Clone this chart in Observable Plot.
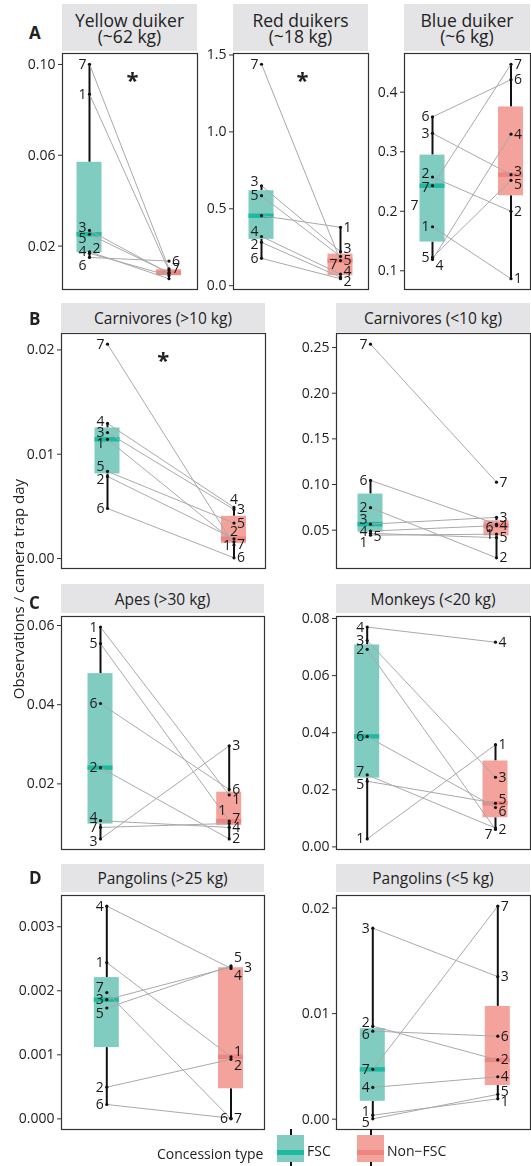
<!DOCTYPE html>
<html>
<head>
<meta charset="utf-8">
<script src="https://cdn.jsdelivr.net/npm/d3@7"></script>
<script src="https://cdn.jsdelivr.net/npm/@observablehq/plot@0.6"></script>
<style>
  body { margin: 0; background: #fff; }
  #fig { position: relative; width: 531px; height: 1166px; overflow: hidden;
         font-family: "Open Sans", sans-serif; color: #222; }
  .strip { position: absolute; background: #e4e4e6; display: flex; align-items: center;
           justify-content: center; text-align: center; color: #222; }
  .tag { position: absolute; font-weight: bold; font-size: 17px; line-height: 17px; }
  .panel { position: absolute; will-change: transform; }
</style>
</head>
<body>
<div id="fig"></div>
<script>
// Study sites, paired across concession types
const sites = [1, 2, 3, 4, 5, 6, 7];

// Observations per camera trap day, sites 1..7
const yellowFSC  = [0.0869, 0.0168, 0.0269, 0.0175, 0.0252, 0.0150, 0.1001];
const yellowNon  = [0.0092, 0.0070, 0.0080, 0.0056, 0.0082, 0.0134, 0.0100];
const redFSC     = [0.455, 0.282, 0.650, 0.320, 0.585, 0.178, 1.440];
const redNon     = [0.380, 0.055, 0.221, 0.075, 0.190, 0.045, 0.163];
const blueFSC    = [0.174, 0.2576, 0.331, 0.119, 0.1225, 0.3585, 0.243];
const blueNon    = [0.0866, 0.200, 0.2615, 0.3295, 0.252, 0.421, 0.447];
const carnLFSC   = [0.01143, 0.00787, 0.01208, 0.01295, 0.00835, 0.0048, 0.02055];
const carnLNon   = [0.0016, 0.0019, 0.0047, 0.0049, 0.0034, 0.00007, 0.0013];
const carnSFSC   = [0.0445, 0.0746, 0.0566, 0.049, 0.0465, 0.1045, 0.2537];
const carnSNon   = [0.0456, 0.0197, 0.064, 0.055, 0.0418, 0.0566, 0.1026];
const apesFSC    = [0.0596, 0.0241, 0.0061, 0.0107, 0.0554, 0.0403, 0.009];
const apesNon    = [0.0172, 0.0061, 0.0296, 0.009, 0.0106, 0.0186, 0.010];
const monkeysFSC = [0.0028, 0.0692, 0.0723, 0.077, 0.023, 0.0387, 0.0252];
const monkeysNon = [0.0358, 0.0061, 0.0244, 0.0717, 0.0153, 0.0138, 0.0066];
const pangLFSC   = [0.002441, 0.000495, 0.001862, 0.003322, 0.001731, 0.000224, 0.001972];
const pangLNon   = [0.00097, 0.00093, 0.00237, 0.00235, 0.00239, 0.00001, 0.0];
const pangSFSC   = [0.00038, 0.00881, 0.01809, 0.00301, 0.00003, 0.00834, 0.00472];
const pangSNon   = [0.00193, 0.00561, 0.0135, 0.00402, 0.00235, 0.00786, 0.02018];

// Tick values for each panel's y axis
const yellowTicks  = [0.02, 0.06, 0.10];
const redTicks     = [0.0, 0.5, 1.0, 1.5];
const blueTicks    = [0.1, 0.2, 0.3, 0.4];
const carnLTicks   = [0.00, 0.01, 0.02];
const carnSTicks   = [0.05, 0.10, 0.15, 0.20, 0.25];
const apesTicks    = [0.02, 0.04, 0.06];
const monkeysTicks = [0.00, 0.02, 0.04, 0.06, 0.08];
const pangLTicks   = [0.000, 0.001, 0.002, 0.003];
const pangSTicks   = [0.00, 0.01, 0.02];

const groups = ["FSC", "Non\u2212FSC"];
const colors = {
  fill:   ["#80ccc1", "#f4a29c"],
  median: ["#1fb9a1", "#ef8580"]
};

// Panel layout: frame [left, top, right, bottom] in page pixels, box centres in page x
const panels = [
  {title: ["Yellow duiker", "(~62 kg)"], fsc: yellowFSC, non: yellowNon, ticks: yellowTicks, fmt: ".2f",
   frame: [62, 53, 197, 289], centers: [89, 168.5], strip: [4, 51], star: 1.54, big: true},
  {title: ["Red duikers", "(~18 kg)"], fsc: redFSC, non: redNon, ticks: redTicks, fmt: ".1f",
   frame: [233, 53, 368, 289], centers: [261, 340], strip: [4, 51], star: 1.52, big: true},
  {title: ["Blue duiker", "(~6 kg)"], fsc: blueFSC, non: blueNon, ticks: blueTicks, fmt: ".1f",
   frame: [404, 53, 530, 289], centers: [432, 510.5], strip: [4, 51], big: true},
  {title: ["Carnivores (>10 kg)"], fsc: carnLFSC, non: carnLNon, ticks: carnLTicks, fmt: ".2f",
   frame: [61, 333, 265, 568], centers: [107, 233.5], strip: [303, 332], star: 1.44},
  {title: ["Carnivores (<10 kg)"], fsc: carnSFSC, non: carnSNon, ticks: carnSTicks, fmt: ".2f",
   frame: [336, 333, 530, 568], centers: [370, 496], strip: [303, 332]},
  {title: ["Apes (>30 kg)"], fsc: apesFSC, non: apesNon, ticks: apesTicks, fmt: ".2f",
   frame: [61, 616, 264, 849], centers: [100, 228.7], strip: [584, 613]},
  {title: ["Monkeys (<20 kg)"], fsc: monkeysFSC, non: monkeysNon, ticks: monkeysTicks, fmt: ".2f",
   frame: [336, 616, 530, 849], centers: [366.7, 495], strip: [584, 613]},
  {title: ["Pangolins (>25 kg)"], fsc: pangLFSC, non: pangLNon, ticks: pangLTicks, fmt: ".3f",
   frame: [61, 895, 264, 1129], centers: [106.3, 230.5], strip: [864, 892]},
  {title: ["Pangolins (<5 kg)"], fsc: pangSFSC, non: pangSNon, ticks: pangSTicks, fmt: ".2f",
   frame: [336, 895, 530, 1129], centers: [372.3, 497.3], strip: [864, 892]}
];

// Site-label placement: a number is a vertical nudge (px); {o} puts the label on the
// other side of its dot, {t} centres it above the dot, {dx} adds horizontal room; null hides it.
// "extra" repeats a site's label once more at an offset (dx, dy) from its dot.
const labelTweaks = [
  {fsc: {3: -3, 5: 4.5, 2: {o: 1, dy: -5}, 6: 8}, non: {1: null, 2: null, 3: null, 4: null, 5: null}},
  {fsc: {1: null, 3: -4, 4: -5, 2: 2}, non: {3: -3, 5: 4, 7: {o: 1, dy: 4}, 4: -3, 2: 4, 6: null}},
  {fsc: {2: -3, 7: 2, 4: {o: 1, dy: 6}}, non: {3: -3, 5: 4}, extra: [[7, 1, -14, 20]]},
  {fsc: {4: -2, 1: 4, 5: -5, 2: 3}, non: {4: {t: 1, dy: -8}, 2: {t: 1, dy: -7}, 1: {o: 1, dy: 4}}},
  {fsc: {3: -5, 5: {o: 1, dy: 3}, 1: 7}, non: {6: {o: 1, dy: 3}, 1: {o: 1, dy: 0}}},
  {fsc: {4: -3, 3: 3}, non: {1: 5, 7: -5, 5: null}, extra: [[1, 2, -3, 16]]},
  {fsc: {7: -3, 5: 3}, non: {5: -4, 6: 4, 7: {o: 1, dy: 6}}},
  {fsc: {7: -5, 5: 5}, non: {5: -8, 3: {dx: 10, dy: 0}, 4: 7, 1: -5, 2: 6, 6: {o: 1, dy: 0}}},
  {fsc: {2: -4, 6: 3, 1: -4, 5: 4}, non: {5: -3, 1: 3}}
];

const tags = [["A", 33], ["B", 319], ["C", 603], ["D", 878]];

const fig = document.getElementById("fig");
const FONT = '"Open Sans", sans-serif';
const ML = 50;         // room for y tick labels
const BOX_PX = 25;     // box width in pixels

function boxStats(values) {
  const v = values.slice().sort(d3.ascending);
  const q1 = d3.quantile(v, 0.25), med = d3.quantile(v, 0.5), q3 = d3.quantile(v, 0.75);
  const iqr = q3 - q1;
  const lo = d3.min(v.filter(d => d >= q1 - 1.5 * iqr));
  const hi = d3.max(v.filter(d => d <= q3 + 1.5 * iqr));
  return {q1, med, q3, lo, hi};
}

function siteLabel(d, dx, dy, anchor) {
  return Plot.text([d], {
    x: "g", y: "v", text: r => String(r.site), dx, dy, textAnchor: anchor,
    fontSize: 14, fill: "#1a1a1a"
  });
}

panels.forEach((p, pi) => {
  const [fl, ft, fr, fb] = p.frame;
  const W = fr - fl, H = fb - ft;
  const [c1, c2] = p.centers;
  const hw = (BOX_PX / 2) / (c2 - c1);

  // strip title
  const strip = document.createElement("div");
  strip.className = "strip";
  Object.assign(strip.style, {left: fl + "px", top: p.strip[0] + "px", width: W + "px",
                              height: (p.strip[1] - p.strip[0]) + "px",
                              fontSize: p.big ? "17.5px" : "15.5px",
                              lineHeight: p.big ? "16px" : "18px"});
  strip.innerHTML = p.title.join("<br>");
  fig.appendChild(strip);

  const all = p.fsc.concat(p.non);
  const [mn, mx] = d3.extent(all);
  const pad = (mx - mn) * 0.05;

  const pairs = sites.map((s, i) => ({site: s, a: p.fsc[i], b: p.non[i]}));
  const stats = [p.fsc, p.non].map((vals, g) => ({g: g + 1, ...boxStats(vals)}));
  const pts = [];
  pairs.forEach(d => { pts.push({site: d.site, g: 1, v: d.a}); pts.push({site: d.site, g: 2, v: d.b}); });

  const labelMarks = [];
  const tw = labelTweaks[pi];
  pts.forEach(d => {
    const t = (d.g === 1 ? tw.fsc : tw.non)[d.site];
    if (t === null) return;
    let dy = 0, dx = 0, side = d.g === 1 ? -1 : 1, center = false;
    if (typeof t === "number") dy = t;
    else if (t) {
      dy = t.dy || 0; dx = t.dx || 0;
      if (t.o) side = -side;
      if (t.t) center = true;
    }
    labelMarks.push(siteLabel(d, center ? 0 : side * 3 + dx, dy,
                              center ? "middle" : (side < 0 ? "end" : "start")));
  });
  (tw.extra || []).forEach(([site, g, dx, dy]) => {
    const d = pts.find(q => q.site === site && q.g === g);
    labelMarks.push(siteLabel(d, dx, dy, "end"));
  });

  const marks = [
    Plot.axisY(p.ticks, {tickFormat: d3.format(p.fmt), tickSize: 4, tickPadding: 3,
                         label: null, fontSize: 14, stroke: "#333", fill: "#222"}),
    // whiskers
    Plot.ruleX(stats, {x: "g", y1: "q3", y2: "hi", stroke: "#111", strokeWidth: 2}),
    Plot.ruleX(stats, {x: "g", y1: "lo", y2: "q1", stroke: "#111", strokeWidth: 2}),
    // boxes and medians
    Plot.rect(stats, {x1: d => d.g - hw, x2: d => d.g + hw, y1: "q1", y2: "q3",
                      fill: d => colors.fill[d.g - 1]}),
    Plot.ruleY(stats, {y: "med", x1: d => d.g - hw, x2: d => d.g + hw, strokeWidth: 4.5,
                       stroke: d => colors.median[d.g - 1]}),
    // paired sites
    Plot.link(pairs, {x1: () => 1, y1: "a", x2: () => 2, y2: "b", stroke: "#a9a9a9", strokeWidth: 1}),
    Plot.dot(pts, {x: "g", y: "v", r: 1.6, fill: "#111", stroke: null}),
    ...labelMarks,
    Plot.frame({stroke: "#333", strokeWidth: 1.2})
  ];
  if (p.star) {
    marks.push(Plot.text(["*"], {x: () => p.star, frameAnchor: "top", dy: 19,
                                 fontSize: 22, fontWeight: "bold", fill: "#222"}));
  }

  const chart = Plot.plot({
    width: ML + W + 2, height: H + 2,
    marginLeft: ML, marginRight: 2, marginTop: 1, marginBottom: 1,
    style: {background: "transparent", fontFamily: FONT, color: "#222", overflow: "visible"},
    x: {type: "linear", domain: [1, 2], range: [ML + c1 - fl, ML + c2 - fl], axis: null},
    y: {domain: [mn - pad, mx + pad], axis: null},
    color: {type: "identity"},
    marks
  });
  chart.classList.add("panel");
  chart.style.left = (fl - ML) + "px";
  chart.style.top = (ft - 1) + "px";
  fig.appendChild(chart);
});

// panel letters
tags.forEach(([t, y]) => {
  const d = document.createElement("div");
  d.className = "tag";
  d.textContent = t;
  d.style.left = "29px";
  d.style.top = (y - 9) + "px";
  fig.appendChild(d);
});

// y title and legend
const over = d3.create("svg").attr("width", 531).attr("height", 1166)
  .style("position", "absolute").style("left", 0).style("top", 0)
  .style("pointer-events", "none").style("font-family", FONT);
over.append("text")
  .attr("transform", "translate(18,589) rotate(-90)")
  .attr("text-anchor", "middle").attr("dominant-baseline", "central")
  .attr("font-size", 15).attr("fill", "#222")
  .text("Observations / camera trap day");

over.append("text").attr("x", 157).attr("y", 1153).attr("dominant-baseline", "central")
  .attr("font-size", 14).attr("fill", "#222").text("Concession type");

const keys = [{x: 277, label: groups[0]}, {x: 357, label: groups[1]}];
keys.forEach((k, i) => {
  const g = over.append("g");
  g.append("line").attr("x1", k.x + 14).attr("x2", k.x + 14).attr("y1", 1129).attr("y2", 1166)
    .attr("stroke", "#111").attr("stroke-width", 2);
  g.append("rect").attr("x", k.x).attr("y", 1135).attr("width", 27).attr("height", 27)
    .attr("fill", colors.fill[i]);
  g.append("rect").attr("x", k.x).attr("y", 1150).attr("width", 27).attr("height", 5)
    .attr("fill", colors.median[i]);
  g.append("text").attr("x", k.x + 30).attr("y", 1150).attr("dominant-baseline", "central")
    .attr("font-size", 14).attr("fill", "#222").text(k.label);
});
fig.appendChild(over.node());
</script>
</body>
</html>
